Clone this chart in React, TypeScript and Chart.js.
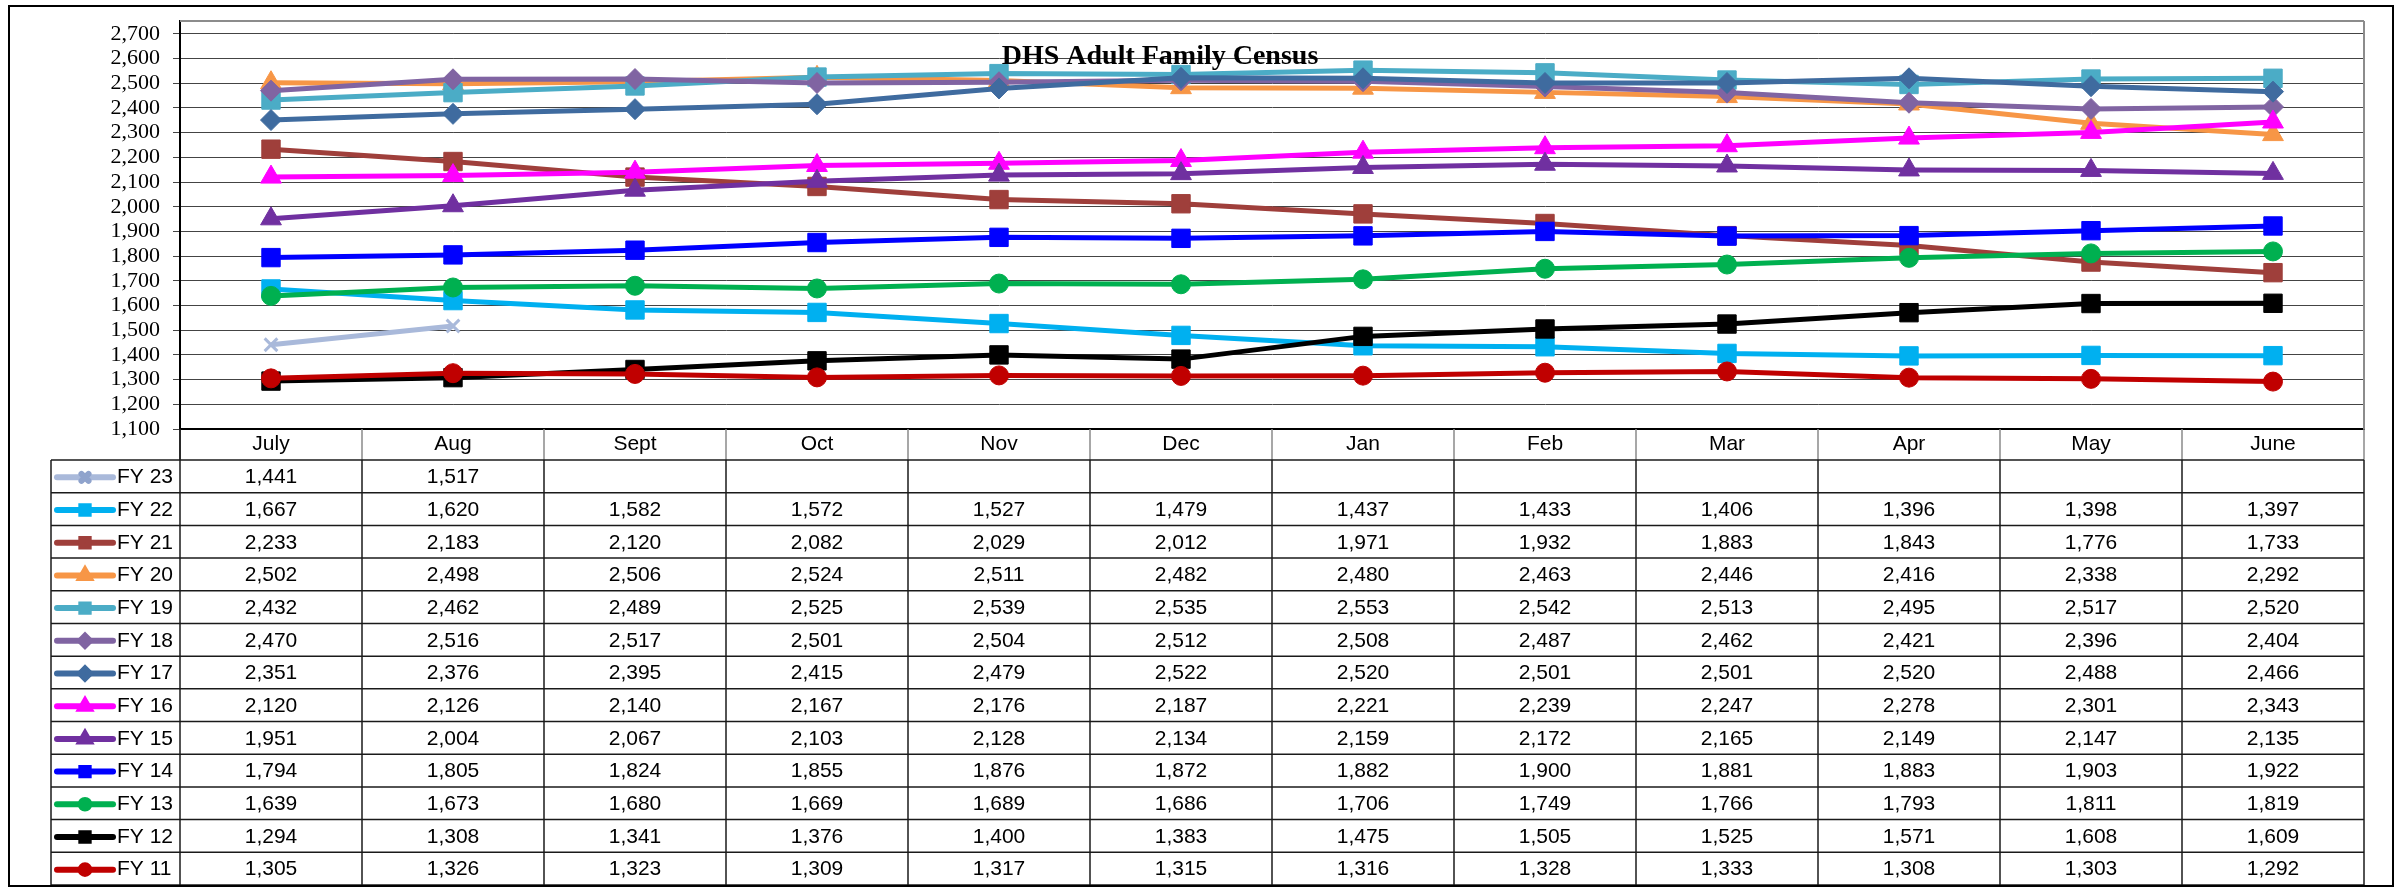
import React, { useEffect, useRef } from "react";
import { Chart, registerables } from "chart.js";
import { drawPoint } from "chart.js/helpers";

Chart.register(...registerables);

const months = ["July", "Aug", "Sept", "Oct", "Nov", "Dec", "Jan", "Feb", "Mar", "Apr", "May", "June"];
const yTickValues = [1100, 1200, 1300, 1400, 1500, 1600, 1700, 1800, 1900, 2000, 2100, 2200, 2300, 2400, 2500, 2600, 2700];
const chartTitle = "DHS Adult Family Census";

const seriesLabels = ["FY 23", "FY 22", "FY 21", "FY 20", "FY 19", "FY 18", "FY 17", "FY 16", "FY 15", "FY 14", "FY 13", "FY 12", "FY 11"];

const fy23 = [1441, 1517, null, null, null, null, null, null, null, null, null, null];
const fy22 = [1667, 1620, 1582, 1572, 1527, 1479, 1437, 1433, 1406, 1396, 1398, 1397];
const fy21 = [2233, 2183, 2120, 2082, 2029, 2012, 1971, 1932, 1883, 1843, 1776, 1733];
const fy20 = [2502, 2498, 2506, 2524, 2511, 2482, 2480, 2463, 2446, 2416, 2338, 2292];
const fy19 = [2432, 2462, 2489, 2525, 2539, 2535, 2553, 2542, 2513, 2495, 2517, 2520];
const fy18 = [2470, 2516, 2517, 2501, 2504, 2512, 2508, 2487, 2462, 2421, 2396, 2404];
const fy17 = [2351, 2376, 2395, 2415, 2479, 2522, 2520, 2501, 2501, 2520, 2488, 2466];
const fy16 = [2120, 2126, 2140, 2167, 2176, 2187, 2221, 2239, 2247, 2278, 2301, 2343];
const fy15 = [1951, 2004, 2067, 2103, 2128, 2134, 2159, 2172, 2165, 2149, 2147, 2135];
const fy14 = [1794, 1805, 1824, 1855, 1876, 1872, 1882, 1900, 1881, 1883, 1903, 1922];
const fy13 = [1639, 1673, 1680, 1669, 1689, 1686, 1706, 1749, 1766, 1793, 1811, 1819];
const fy12 = [1294, 1308, 1341, 1376, 1400, 1383, 1475, 1505, 1525, 1571, 1608, 1609];
const fy11 = [1305, 1326, 1323, 1309, 1317, 1315, 1316, 1328, 1333, 1308, 1303, 1292];

const seriesValues = [fy23, fy22, fy21, fy20, fy19, fy18, fy17, fy16, fy15, fy14, fy13, fy12, fy11];

const seriesColors = [
  "#A9B9DA", "#00B0F0", "#9F3F3B", "#F79646", "#4BACC6", "#8064A2", "#3F6B9F",
  "#FF00FF", "#7030A0", "#0000FF", "#00B050", "#000000", "#C00000",
];
const seriesMarkers = [
  "crossRot", "rect", "rect", "triangle", "rect", "rectRot", "rectRot",
  "triangle", "triangle", "rect", "circle", "rect", "circle",
];

const markerRadius: Record<string, number> = { rect: 13, circle: 9.5, triangle: 12, rectRot: 10.5, crossRot: 9 };
const legendMarkerRadius: Record<string, number> = { rect: 5.2, circle: 4.3, triangle: 5.2, rectRot: 5, crossRot: 5 };

const SANS = "'Liberation Sans', Arial, sans-serif";
const SERIF = "'Liberation Serif', 'Times New Roman', serif";

const fmt = (v: number) => Number(v).toLocaleString("en-US");

function seg(ctx: CanvasRenderingContext2D, x1: number, y1: number, x2: number, y2: number) {
  ctx.beginPath();
  ctx.moveTo(x1, y1);
  ctx.lineTo(x2, y2);
  ctx.stroke();
}

const plotFramePlugin = {
  id: "plotFrame",
  beforeDatasetsDraw(chart: any) {
    const { ctx, chartArea: a } = chart;
    ctx.save();
    ctx.strokeStyle = "#8c8c8c";
    ctx.lineWidth = 2;
    seg(ctx, a.left, a.top, a.right, a.top);
    seg(ctx, a.right, a.top, a.right, a.bottom);
    ctx.restore();
  },
};

const titlePlugin = {
  id: "overlayTitle",
  afterDatasetsDraw(chart: any) {
    const { ctx } = chart;
    ctx.save();
    ctx.font = `bold 28px ${SERIF}`;
    ctx.fillStyle = "#000";
    ctx.textAlign = "center";
    ctx.textBaseline = "middle";
    ctx.fillText(chartTitle, 1150, 50);
    ctx.restore();
  },
};

const dataTablePlugin = {
  id: "dataTable",
  afterDraw(chart: any) {
    const { ctx, chartArea: area } = chart;
    const xs = chart.scales.x;
    const n = months.length;
    const colW = xs.getPixelForValue(1) - xs.getPixelForValue(0);
    const first = xs.getPixelForValue(0) - colW / 2;
    const bounds: number[] = [];
    for (let i = 0; i <= n; i++) bounds.push(first + i * colW);
    const headTop = area.bottom;
    const headBottom = xs.bottom;
    const tableTop = headBottom;
    const tableBottom = chart.height;
    const rows = seriesLabels.length;
    const rowH = (tableBottom - tableTop) / rows;
    const legendLeft = 41;

    ctx.save();
    ctx.strokeStyle = "#8a8a8a";
    ctx.lineWidth = 1.5;
    bounds.forEach((x) => seg(ctx, x, headTop, x, headBottom));
    ctx.strokeStyle = "#000";
    ctx.lineWidth = 1.5;
    seg(ctx, bounds[0], headTop, bounds[0], headBottom);

    ctx.strokeStyle = "#1a1a1a";
    ctx.lineWidth = 1.5;
    for (let r = 0; r <= rows; r++) {
      const y = tableTop + r * rowH;
      seg(ctx, legendLeft, y, bounds[n], y);
    }
    [legendLeft, ...bounds].forEach((x) => seg(ctx, x, tableTop, x, tableBottom));

    ctx.textBaseline = "middle";
    ctx.font = `21px ${SANS}`;
    for (let r = 0; r < rows; r++) {
      const yc = tableTop + r * rowH + rowH / 2 + 1;
      const color = seriesColors[r];
      const marker = seriesMarkers[r];
      ctx.lineCap = "round";
      ctx.lineWidth = 6;
      ctx.strokeStyle = color;
      seg(ctx, 47, yc, 103, yc);
      ctx.fillStyle = color;
      ctx.strokeStyle = marker === "crossRot" ? "#8FA3CC" : color;
      drawPoint(ctx, { pointStyle: marker, radius: legendMarkerRadius[marker], rotation: 0, borderWidth: marker === "crossRot" ? 2 : 1 } as any, 75, yc);
      ctx.lineCap = "butt";
      ctx.fillStyle = "#000";
      ctx.textAlign = "left";
      ctx.fillText(seriesLabels[r], 107, yc);
      ctx.textAlign = "center";
      const vals = seriesValues[r];
      for (let i = 0; i < n; i++) {
        const v = vals[i];
        if (v === null || v === undefined) continue;
        ctx.fillText(fmt(v), xs.getPixelForValue(i), yc);
      }
    }
    ctx.restore();
  },
};

export default function App() {
  const canvasRef = useRef<HTMLCanvasElement | null>(null);

  useEffect(() => {
    if (!canvasRef.current) return;
    const datasets = seriesLabels.map((label, i) => {
      const m = seriesMarkers[i];
      return {
        label,
        data: seriesValues[i],
        borderColor: seriesColors[i],
        backgroundColor: seriesColors[i],
        pointBackgroundColor: seriesColors[i],
        pointBorderColor: seriesColors[i],
        borderWidth: 5,
        pointStyle: m,
        pointRadius: markerRadius[m],
        pointBorderWidth: m === "crossRot" ? 3 : 1,
        tension: 0,
        fill: false,
        order: seriesLabels.length - 1 - i,
      };
    });
    const chart = new Chart(canvasRef.current, {
      type: "line",
      data: { labels: months, datasets: datasets as any },
      plugins: [plotFramePlugin, titlePlugin, dataTablePlugin],
      options: {
        responsive: false,
        maintainAspectRatio: false,
        animation: false,
        devicePixelRatio: 1,
        events: [],
        layout: { padding: { left: 0, right: 28, top: 11, bottom: 425 } },
        plugins: {
          legend: { display: false },
          tooltip: { enabled: false },
          title: { display: false },
        },
        scales: {
          x: {
            type: "category",
            offset: true,
            grid: { display: false, drawTicks: false },
            border: { display: true, color: "#000", width: 2 },
            ticks: {
              color: "#000",
              font: { family: SANS, size: 21 },
              padding: 3,
              maxRotation: 0,
              autoSkip: false,
            },
            afterFit(s: any) {
              s.height = 31;
              s.paddingLeft = 0;
              s.paddingRight = 0;
            },
          },
          y: {
            min: 1100,
            max: 2752,
            afterBuildTicks(s: any) {
              s.ticks = yTickValues.map((v) => ({ value: v }));
            },
            grid: { color: "#444", lineWidth: 1, tickLength: 7, drawTicks: true },
            border: { display: true, color: "#000", width: 2 },
            ticks: {
              color: "#000",
              autoSkip: false,
              font: { family: SERIF, size: 22 },
              padding: 13,
              callback: (v: any) => fmt(Number(v)),
            },
            afterFit(s: any) {
              s.width = 170;
              s.paddingTop = 0;
              s.paddingBottom = 0;
            },
          },
        },
      } as any,
    });
    return () => chart.destroy();
  }, []);

  return (
    <div
      style={{
        position: "fixed",
        left: 8,
        top: 5,
        width: 2386,
        height: 882,
        boxSizing: "border-box",
        border: "2px solid #000",
        background: "#fff",
      }}
    >
      <canvas ref={canvasRef} width={2382} height={878} style={{ display: "block" }} />
    </div>
  );
}
